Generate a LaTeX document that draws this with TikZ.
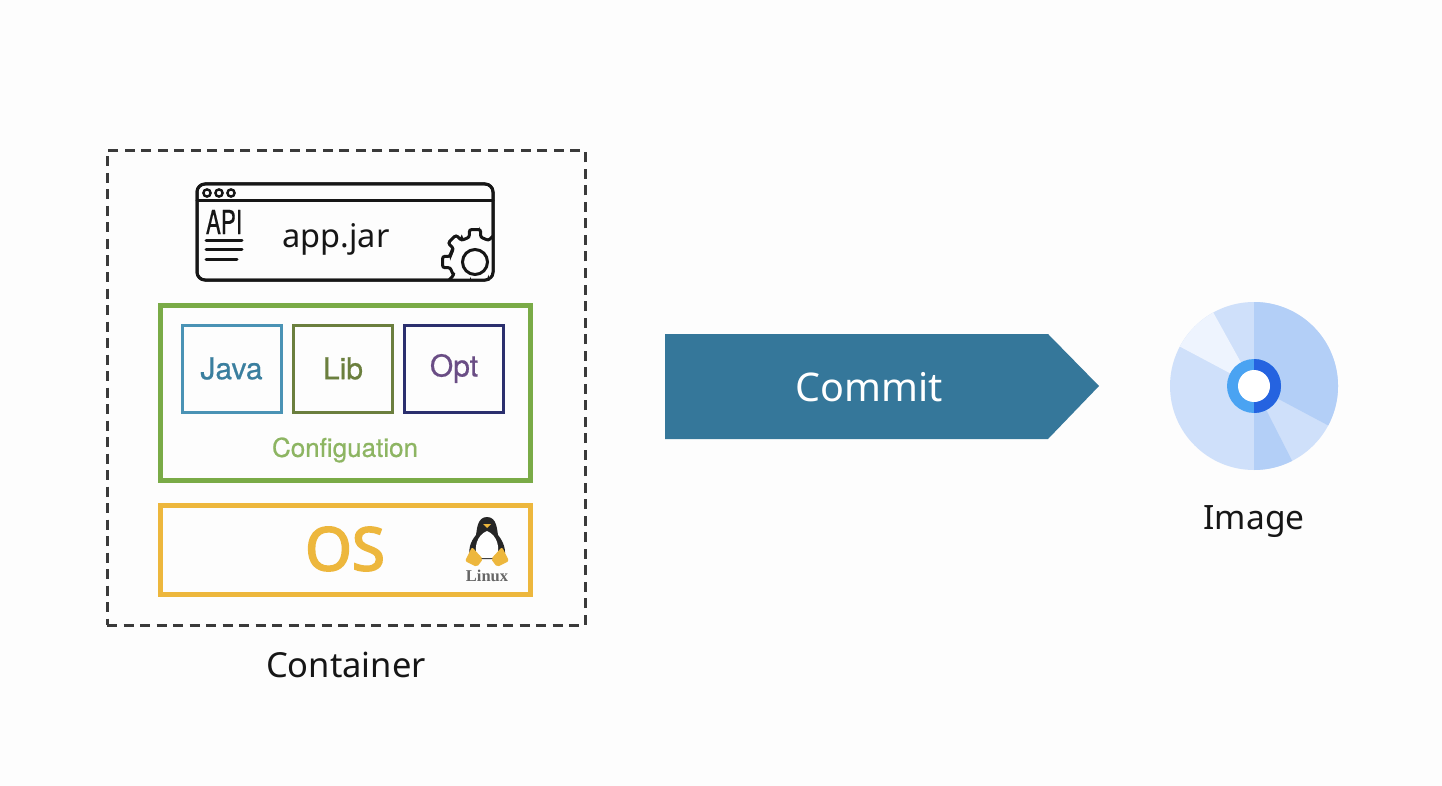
\documentclass[tikz,border=0pt]{standalone}
\usepackage{fontspec}
\setmainfont{Noto Sans}
\newfontfamily\linuxfont{Liberation Serif}
\newfontfamily\boxfont[FakeBold=0.6]{TeX Gyre Heros}
\newfontfamily\osfont[FakeBold=3]{Noto Sans}
\usepackage{tikz}
\usetikzlibrary{positioning}
\definecolor{pagebg}{HTML}{FDFDFD}
\definecolor{dashcol}{HTML}{3A3A3A}
\definecolor{inkcol}{HTML}{161616}
\definecolor{javacol}{HTML}{4A93B5}
\definecolor{javatxt}{HTML}{3A7F9F}
\definecolor{libcol}{HTML}{6B7F3E}
\definecolor{optcol}{HTML}{2B2F6E}
\definecolor{opttxt}{HTML}{6A4D85}
\definecolor{confcol}{HTML}{7AAB47}
\definecolor{conftxt}{HTML}{8DB562}
\definecolor{oscol}{HTML}{EDB73D}
\definecolor{arrowcol}{HTML}{35779A}
\definecolor{discbase}{HTML}{CFE0FA}
\definecolor{discmid}{HTML}{B3CFF7}
\definecolor{discpale}{HTML}{EEF4FE}
\definecolor{ringleft}{HTML}{4AA3F2}
\definecolor{ringright}{HTML}{2563E0}
\tikzset{
	layerbox/.style={draw, line width=5pt, inner sep=0pt},
	smallbox/.style={draw, line width=3pt, minimum width=99pt, minimum height=87pt, inner sep=0pt, font=\fontsize{30}{34}\boxfont},
	caption/.style={text=inkcol, inner sep=0pt},
	inkline/.style={draw=inkcol, line width=3pt, line cap=round}
}
\begin{document}
\begin{tikzpicture}[x=1pt,y=-1pt]
\useasboundingbox[fill=pagebg] (0,0) rectangle (1442,786);

\node (container) [draw=dashcol, dash pattern=on 10pt off 6.5pt, line width=3pt, minimum width=478pt, minimum height=474pt] at (346,388) {};
\node (containerlabel) [caption, font=\fontsize{34.5}{38}\selectfont] at (346,665) {Container};

\node (appwindow) [draw=inkcol, line width=3pt, rounded corners=8pt, minimum width=296pt, minimum height=96pt] at (345,232) {};
\coordinate (titleleft) at (197,201);
\coordinate (titleright) at (493,201);
\draw[inkline] (titleleft) -- (titleright);
\foreach \dotx in {207,219,231}
	\draw[inkcol, line width=2.4pt] (\dotx,193) circle (3.6);
\node (apilabel) [text=inkcol, inner sep=0pt, xscale=0.68, font=\fontsize{33}{38}\boxfont] at (224,222) {API};
\draw[inkline] (206,241) -- (242,241);
\draw[inkline] (206,250) -- (242,250);
\draw[inkline] (206,260) -- (237,260);
\node (applabel) [text=inkcol, inner sep=0pt, font=\fontsize{32.5}{36}\selectfont] at (336,239) {app.jar};
\begin{scope}
	\clip (197,184) rectangle (492,279);
	\begin{scope}[shift={(475,262)},yscale=-1]
		\draw[draw=inkcol, fill=pagebg, line width=3pt, rounded corners=2.5pt] (-13:25)
		\foreach \ang in {0,45,...,315} {
			-- (\ang-13:25) -- (\ang-10:33) -- (\ang+10:33) -- (\ang+13:25) arc (\ang+13:\ang+32:25)
		} -- cycle;
		\draw[draw=inkcol, line width=3pt] (0,0) circle (12.5);
	\end{scope}
\end{scope}
\draw[draw=inkcol, line width=3pt, rounded corners=8pt] (197,184) rectangle (493,280);

\node (config) [layerbox, draw=confcol, minimum width=370pt, minimum height=175pt] at (345.5,393) {};
\node (java) [smallbox, draw=javacol, text=javatxt] at (231.5,368.5) {Java};
\node (lib) [smallbox, draw=libcol, text=libcol] at (343,368.5) {Lib};
\node (opt) [smallbox, draw=optcol, text=opttxt] at (454,368.5) {Opt};
\node (configlabel) [text=conftxt, inner sep=0pt, font=\fontsize{26}{30}\boxfont] at (345,450) {Configuation};

\node (os) [layerbox, draw=oscol, minimum width=370pt, minimum height=89pt] at (345.5,550) {};
\node (oslabel) [text=oscol, inner sep=0pt, font=\fontsize{60}{64}\osfont] at (345,549) {OS};
\fill[black!85] (487,517) .. controls (477,517) and (477,530) .. (476,535) .. controls (470,542) and (468,550) .. (470,559) -- (504,559) .. controls (507,550) and (503,541) .. (498,535) .. controls (497,530) and (497,517) .. (487,517) -- cycle;
\fill[white] (487,531) .. controls (477,535) and (473,548) .. (478,558) -- (496,558) .. controls (501,548) and (497,535) .. (487,531) -- cycle;
\fill[oscol] (483,524) -- (491,524) -- (487,528) -- cycle;
\fill[oscol, rounded corners=2pt] (472,547) -- (483,559) -- (477,567) -- (465,561) -- cycle;
\fill[oscol, rounded corners=2pt] (502,547) -- (509,561) -- (497,567) -- (491,559) -- cycle;
\node (linuxlabel) [text=black!60, inner sep=0pt, font=\fontsize{16.5}{18}\linuxfont\bfseries] at (487,576) {Linux};

\fill[arrowcol] (665,334) -- (1048,334) -- (1099,386) -- (1048,439) -- (665,439) -- cycle;
\node (commit) [text=white, inner sep=0pt, font=\fontsize{39.5}{44}\selectfont] at (869,387) {Commit};

\begin{scope}[shift={(1254,386)},yscale=-1]
	\fill[discbase] (0,0) circle (84);
	\foreach \from/\to/\col in {-28/90/discmid, -90/-63/discmid, 119/152/discpale}
		\fill[\col] (0,0) -- (\from:84) arc (\from:\to:84) -- cycle;
	\fill[ringleft] (0,0) circle (27);
	\fill[ringright] (0,27) arc (90:-90:27) -- cycle;
	\fill[white] (0,0) circle (16);
\end{scope}
\node (imagelabel) [caption, font=\fontsize{33.5}{38}\selectfont] at (1254,522) {Image};
\end{tikzpicture}
\end{document}
